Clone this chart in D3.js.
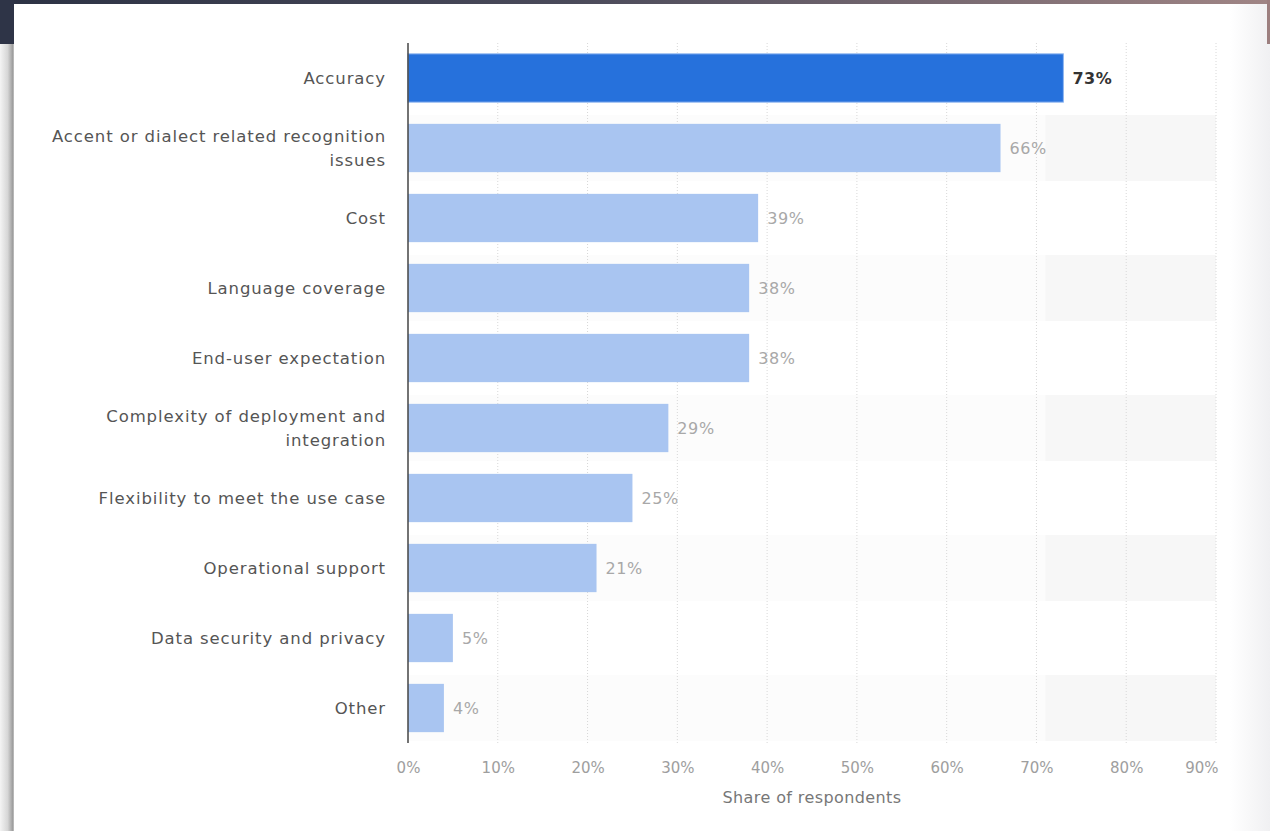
<!DOCTYPE html>
<html>
<head>
<meta charset="utf-8">
<script src="https://cdn.jsdelivr.net/npm/d3@7"></script>
<style>
  html, body { margin: 0; padding: 0; background: #fff; }
  svg { display: block; }
</style>
</head>
<body>
<svg id="chart" width="1270" height="831"></svg>
<script>
const categories = [
  "Accuracy",
  "Accent or dialect related recognition issues",
  "Cost",
  "Language coverage",
  "End-user expectation",
  "Complexity of deployment and integration",
  "Flexibility to meet the use case",
  "Operational support",
  "Data security and privacy",
  "Other"
];
const labelLines = [
  ["Accuracy"],
  ["Accent or dialect related recognition", "issues"],
  ["Cost"],
  ["Language coverage"],
  ["End-user expectation"],
  ["Complexity of deployment and", "integration"],
  ["Flexibility to meet the use case"],
  ["Operational support"],
  ["Data security and privacy"],
  ["Other"]
];
const values = [73, 66, 39, 38, 38, 29, 25, 21, 5, 4];
const ticks = [0, 10, 20, 30, 40, 50, 60, 70, 80, 90];
const tickLabels = ["0%", "10%", "20%", "30%", "40%", "50%", "60%", "70%", "80%", "90%"];
const axisTitle = "Share of respondents";

const W = 1270, H = 831;
const svg = d3.select("#chart");
const defs = svg.append("defs");

// frame decorations (screenshot edges)
const topGrad = defs.append("linearGradient").attr("id", "topGrad");
topGrad.append("stop").attr("offset", "0%").attr("stop-color", "#2c3244");
topGrad.append("stop").attr("offset", "45%").attr("stop-color", "#4a4a5a");
topGrad.append("stop").attr("offset", "100%").attr("stop-color", "#a08585");
const leftGrad = defs.append("linearGradient").attr("id", "leftGrad");
leftGrad.append("stop").attr("offset", "0%").attr("stop-color", "#f4f4f4");
leftGrad.append("stop").attr("offset", "55%").attr("stop-color", "#d6d6d6");
leftGrad.append("stop").attr("offset", "90%").attr("stop-color", "#9e9e9e");
leftGrad.append("stop").attr("offset", "100%").attr("stop-color", "#c4c4c4");
const rightGrad = defs.append("linearGradient").attr("id", "rightGrad");
rightGrad.append("stop").attr("offset", "0%").attr("stop-color", "#ffffff");
rightGrad.append("stop").attr("offset", "100%").attr("stop-color", "#f0f0f2");

svg.append("rect").attr("x", 1230).attr("y", 0).attr("width", 40).attr("height", H).attr("fill", "url(#rightGrad)");
svg.append("rect").attr("x", 0).attr("y", 44).attr("width", 14).attr("height", H - 44).attr("fill", "url(#leftGrad)");
svg.append("rect").attr("x", 0).attr("y", 0).attr("width", W).attr("height", 4).attr("fill", "url(#topGrad)");
svg.append("rect").attr("x", 0).attr("y", 0).attr("width", 14).attr("height", 44).attr("fill", "#2e3447");
svg.append("rect").attr("x", 1267).attr("y", 0).attr("width", 3).attr("height", 44).attr("fill", "#9c7f7f");

// chart
const x = d3.scaleLinear().domain([0, 90]).range([408, 1216]);
const y = d3.scaleBand().domain(categories).range([43, 743]).paddingInner(0.31).paddingOuter(0.155);
const band = d3.scaleBand().domain(categories).range([43, 743]);

// faint alternating row shading
svg.append("g").selectAll("rect").data(categories.filter((d, i) => i % 2 === 1)).join("rect")
  .attr("x", x(0)).attr("y", d => band(d) + 2).attr("width", x(90) - x(0)).attr("height", band.bandwidth() - 4)
  .attr("fill", "#fcfcfc");
svg.append("g").selectAll("rect").data(categories.filter((d, i) => i % 2 === 1)).join("rect")
  .attr("x", x(71)).attr("y", d => band(d) + 2).attr("width", x(90) - x(71)).attr("height", band.bandwidth() - 4)
  .attr("fill", "#f7f7f7");

// gridlines
svg.append("g").selectAll("line").data(ticks.slice(1)).join("line")
  .attr("x1", d => x(d)).attr("x2", d => x(d))
  .attr("y1", 43).attr("y2", 743)
  .attr("stroke", "#d8d8d8").attr("stroke-width", 1).attr("stroke-dasharray", "1,2");

// bars
svg.append("g").selectAll("rect").data(categories).join("rect")
  .attr("x", x(0))
  .attr("y", d => y(d))
  .attr("width", (d, i) => x(values[i]) - x(0))
  .attr("height", y.bandwidth())
  .attr("fill", (d, i) => i === 0 ? "#2671dc" : "#a9c5f1")
  .attr("stroke", (d, i) => i === 0 ? "#8fb6f0" : "none")
  .attr("stroke-width", 1);

// value labels
svg.append("g").selectAll("text").data(categories).join("text")
  .attr("x", (d, i) => x(values[i]) + 9)
  .attr("y", d => y(d) + y.bandwidth() / 2)
  .attr("dy", "0.35em")
  .attr("font-family", "DejaVu Sans, sans-serif")
  .attr("font-size", 16)
  .attr("letter-spacing", "0.6px")
  .attr("font-weight", (d, i) => i === 0 ? "bold" : "normal")
  .attr("fill", (d, i) => i === 0 ? "#333333" : "#a8a8a8")
  .text((d, i) => values[i] + "%");

// category labels
const yAxis = d3.axisLeft(band).tickSize(0).tickPadding(22);
const gy = svg.append("g").attr("transform", `translate(${x(0)},0)`).call(yAxis);
gy.select(".domain").remove();
gy.selectAll(".tick text").each(function(d, i) {
  const t = d3.select(this);
  const lines = labelLines[categories.indexOf(d)];
  t.text(null)
    .attr("font-family", "DejaVu Sans, sans-serif")
    .attr("font-size", 16.5)
    .attr("letter-spacing", "0.9px")
    .attr("fill", "#555555");
  const n = lines.length;
  lines.forEach((ln, k) => {
    t.append("tspan").attr("x", -22).attr("dy", k === 0 ? (0.35 - (n - 1) * 0.73) + "em" : "1.46em").text(ln);
  });
});

// y axis line
svg.append("line").attr("x1", x(0)).attr("x2", x(0)).attr("y1", 43).attr("y2", 743)
  .attr("stroke", "#444").attr("stroke-width", 1.5);

// x axis tick labels
const xAxis = d3.axisBottom(x).tickValues(ticks).tickSize(0).tickPadding(19)
  .tickFormat((d, i) => tickLabels[i]);
const gx = svg.append("g").attr("transform", "translate(0,743)").call(xAxis);
gx.select(".domain").remove();
gx.selectAll(".tick text")
  .attr("font-family", "DejaVu Sans, sans-serif")
  .attr("font-size", 15)
  .attr("fill", "#9e9e9e")
  .attr("text-anchor", (d, i) => i === ticks.length - 1 ? "end" : "middle")
  .attr("dx", (d, i) => i === ticks.length - 1 ? 2 : 0);

svg.append("text")
  .attr("x", (x(0) + x(90)) / 2)
  .attr("y", 803)
  .attr("text-anchor", "middle")
  .attr("font-family", "DejaVu Sans, sans-serif")
  .attr("font-size", 16)
  .attr("letter-spacing", "0.4px")
  .attr("fill", "#777777")
  .text(axisTitle);
</script>
</body>
</html>
